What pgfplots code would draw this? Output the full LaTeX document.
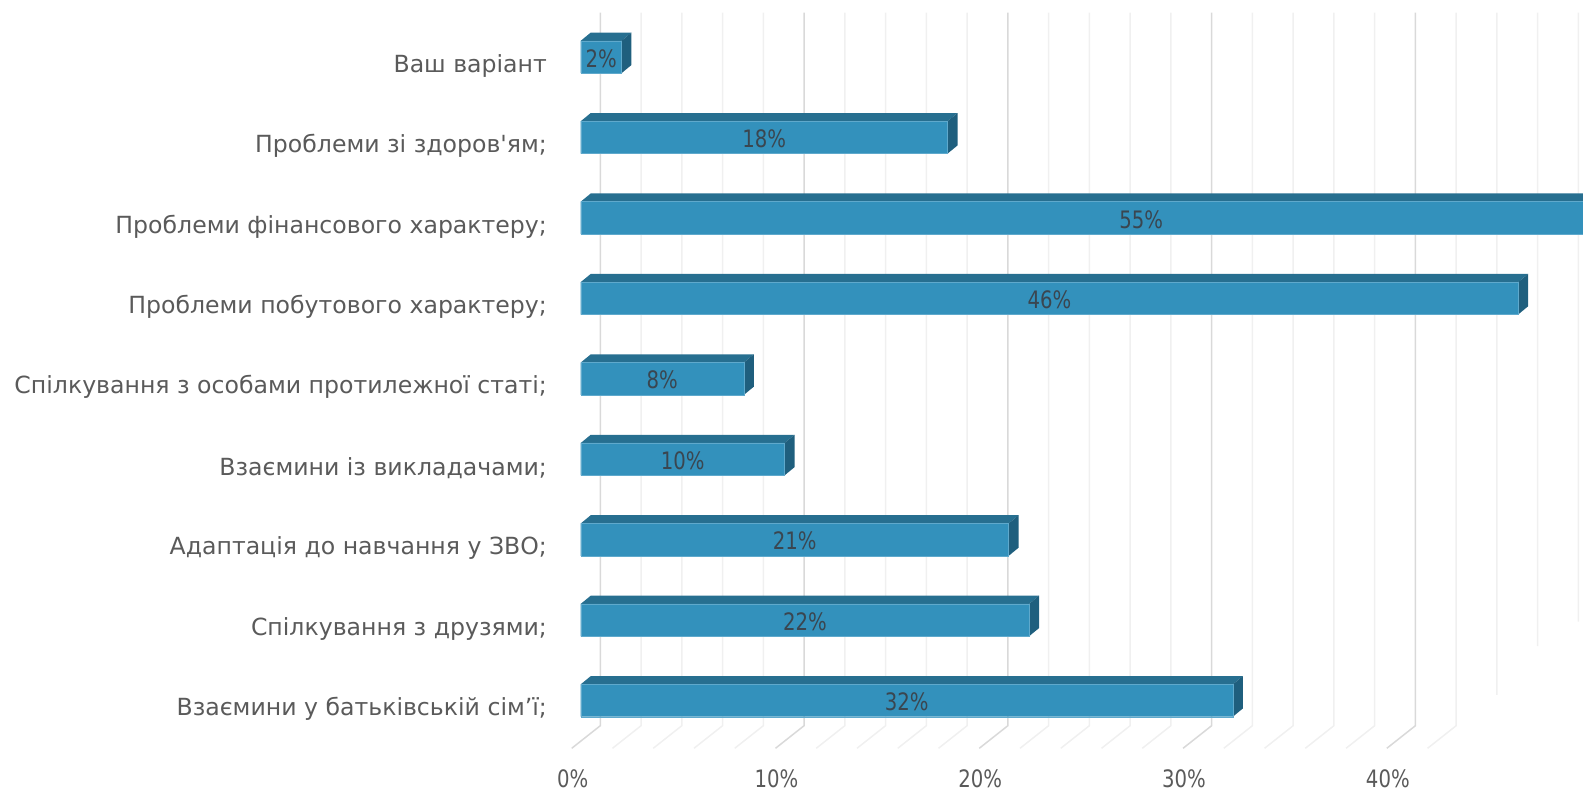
\documentclass[border=0pt]{standalone}
\usepackage{fontspec}
\usepackage{pgfplots}
\pgfplotsset{compat=1.18}
\setmainfont{DejaVu Sans}
\newfontfamily\narrowfont[FakeStretch=0.82]{DejaVu Sans}
% raw font, so that the straight apostrophe is not turned into a curly one
\font\rawfont="DejaVu Sans" at 23.6pt
\definecolor{barfront}{HTML}{3391BC}
\definecolor{bartop}{HTML}{276F90}
\definecolor{barside}{HTML}{1F5F7E}
\definecolor{baredge}{HTML}{5FA9CC}
\definecolor{labelgray}{HTML}{5A5A5A}
\definecolor{vallabel}{HTML}{3A4650}
\pgfplotstableread{
val cat
32 0
22 1
21 2
10 3
8 4
46 5
55 6
18 7
2 8
}\bars
\begin{document}
\begin{tikzpicture}
\begin{axis}[
    scale only axis,
    width=1583pt,
    height=792pt,
    xmin=-28.494, xmax=49.18,
    ymin=-1.1374, ymax=8.7073,
    axis line style={draw=none},
    major tick length=0pt,
    unbounded coords=jump,
    xtick={0,10,20,30,40},
    xticklabels={0\%,10\%,20\%,30\%,40\%},
    ytick={0,1,2,3,4,5,6,7,8},
    yticklabels={Взаємини у батьківській сім’ї;,Спілкування з друзями;,Адаптація до навчання у ЗВО;,Взаємини із викладачами;,Спілкування з особами протилежної статі;,Проблеми побутового характеру;,Проблеми фінансового характеру;,Проблеми зі здоров{\rawfont'}ям;,Ваш варіант},
    yticklabel style={anchor=east, xshift=547pt, yshift=-8.5pt, inner sep=0pt, text=labelgray, font=\fontsize{23.6}{28}\selectfont},
    xticklabel style={anchor=center, xshift=-8pt, yshift=13pt, inner sep=0pt, text=labelgray, font=\narrowfont\fontsize{24}{27}\selectfont},
]
% minor floor + wall lines
\addplot[no marks, draw=black!6, line width=1.5pt] coordinates {
(2.96,8.55)(2.96,-0.313)(1.557,-0.594)(0,nan)
(4.96,8.55)(4.96,-0.313)(3.557,-0.594)(0,nan)
(6.96,8.55)(6.96,-0.313)(5.557,-0.594)(0,nan)
(8.96,8.55)(8.96,-0.313)(7.557,-0.594)(0,nan)
(12.96,8.55)(12.96,-0.313)(11.557,-0.594)(0,nan)
(14.96,8.55)(14.96,-0.313)(13.557,-0.594)(0,nan)
(16.96,8.55)(16.96,-0.313)(15.557,-0.594)(0,nan)
(18.96,8.55)(18.96,-0.313)(17.557,-0.594)(0,nan)
(22.96,8.55)(22.96,-0.313)(21.557,-0.594)(0,nan)
(24.96,8.55)(24.96,-0.313)(23.557,-0.594)(0,nan)
(26.96,8.55)(26.96,-0.313)(25.557,-0.594)(0,nan)
(28.96,8.55)(28.96,-0.313)(27.557,-0.594)(0,nan)
(32.96,8.55)(32.96,-0.313)(31.557,-0.594)(0,nan)
(34.96,8.55)(34.96,-0.313)(33.557,-0.594)(0,nan)
(36.96,8.55)(36.96,-0.313)(35.557,-0.594)(0,nan)
(38.96,8.55)(38.96,-0.313)(37.557,-0.594)(0,nan)
(42.96,8.55)(42.96,-0.313)(41.557,-0.594)(0,nan)
(44.96,8.55)(44.96,0.069)(0,nan)
(46.96,8.55)(46.96,0.677)(0,nan)
(48.96,8.55)(48.96,0.98)
};
% major lines
\addplot[no marks, draw=black!15, line width=1.5pt] coordinates {
(0.96,8.55)(0.96,-0.313)(-0.443,-0.594)(0,nan)
(10.96,8.55)(10.96,-0.313)(9.557,-0.594)(0,nan)
(20.96,8.55)(20.96,-0.313)(19.557,-0.594)(0,nan)
(30.96,8.55)(30.96,-0.313)(29.557,-0.594)(0,nan)
(40.96,8.55)(40.96,-0.313)(39.557,-0.594)
};
% top faces
\addplot[fill=bartop, draw=none] coordinates {(0,0.2014)(0.49,0.3034)(32.49,0.3034)(32,0.2014)} -- cycle;
\addplot[fill=bartop, draw=none] coordinates {(0,1.2014)(0.49,1.3034)(22.49,1.3034)(22,1.2014)} -- cycle;
\addplot[fill=bartop, draw=none] coordinates {(0,2.2014)(0.49,2.3034)(21.49,2.3034)(21,2.2014)} -- cycle;
\addplot[fill=bartop, draw=none] coordinates {(0,3.2014)(0.49,3.3034)(10.49,3.3034)(10,3.2014)} -- cycle;
\addplot[fill=bartop, draw=none] coordinates {(0,4.2014)(0.49,4.3034)(8.49,4.3034)(8,4.2014)} -- cycle;
\addplot[fill=bartop, draw=none] coordinates {(0,5.2014)(0.49,5.3034)(46.49,5.3034)(46,5.2014)} -- cycle;
\addplot[fill=bartop, draw=none] coordinates {(0,6.2014)(0.49,6.3034)(55.49,6.3034)(55,6.2014)} -- cycle;
\addplot[fill=bartop, draw=none] coordinates {(0,7.2014)(0.49,7.3034)(18.49,7.3034)(18,7.2014)} -- cycle;
\addplot[fill=bartop, draw=none] coordinates {(0,8.2014)(0.49,8.3034)(2.49,8.3034)(2,8.2014)} -- cycle;
% side faces
\addplot[fill=barside, draw=none] coordinates {(32,0.2014)(32.49,0.3034)(32.49,-0.0994)(32,-0.2014)} -- cycle;
\addplot[fill=barside, draw=none] coordinates {(22,1.2014)(22.49,1.3034)(22.49,0.9006)(22,0.7986)} -- cycle;
\addplot[fill=barside, draw=none] coordinates {(21,2.2014)(21.49,2.3034)(21.49,1.9006)(21,1.7986)} -- cycle;
\addplot[fill=barside, draw=none] coordinates {(10,3.2014)(10.49,3.3034)(10.49,2.9006)(10,2.7986)} -- cycle;
\addplot[fill=barside, draw=none] coordinates {(8,4.2014)(8.49,4.3034)(8.49,3.9006)(8,3.7986)} -- cycle;
\addplot[fill=barside, draw=none] coordinates {(46,5.2014)(46.49,5.3034)(46.49,4.9006)(46,4.7986)} -- cycle;
\addplot[fill=barside, draw=none] coordinates {(18,7.2014)(18.49,7.3034)(18.49,6.9006)(18,6.7986)} -- cycle;
\addplot[fill=barside, draw=none] coordinates {(2,8.2014)(2.49,8.3034)(2.49,7.9006)(2,7.7986)} -- cycle;
% front faces
\addplot[xbar, bar width=0.4028, bar shift=0pt, fill=barfront, draw=baredge, line width=0.4pt] table[x=val, y=cat] {\bars};
% value labels, centred on the bars
\addplot[only marks, mark=none, point meta=explicit symbolic, nodes near coords, nodes near coords align={center},
    every node near coord/.append style={anchor=center, yshift=-1.5pt, inner sep=0pt, text=vallabel, font=\narrowfont\fontsize{24}{27}\selectfont}]
  coordinates {
    (16,0)[32\%] (11,1)[22\%] (10.5,2)[21\%] (5,3)[10\%] (4,4)[8\%]
    (23,5)[46\%] (27.5,6)[55\%] (9,7)[18\%] (1,8)[2\%]
};
\end{axis}
\end{tikzpicture}
\end{document}
